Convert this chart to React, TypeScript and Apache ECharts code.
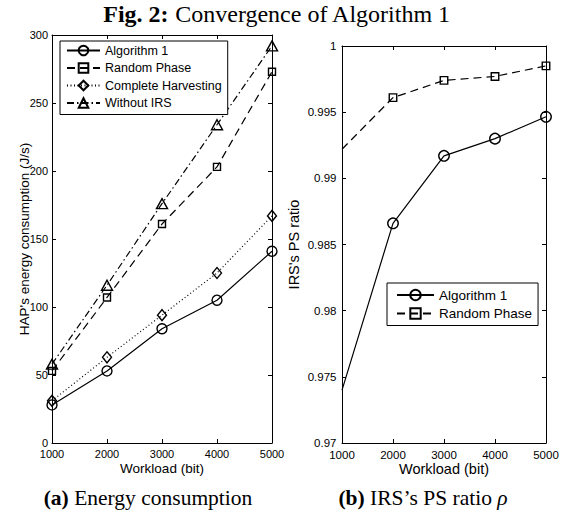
import React, { useEffect, useRef } from 'react';
import * as echarts from 'echarts';

// ---- data ----
const workload = [1000, 2000, 3000, 4000, 5000];
const energyAlg1 = [28, 53, 84, 105, 141];
const energyRandom = [53, 107, 161, 203, 273];
const energyComplete = [31, 63, 94, 125, 167];
const energyNoIRS = [58, 116, 176, 234, 292];
const psAlg1 = [0.974, 0.9866, 0.9917, 0.993, 0.99465];
const psRandom = [0.9922, 0.9961, 0.9974, 0.9977, 0.9985];
const energyAxis = { min: 0, max: 300, interval: 50 };
const psAxis = { min: 0.97, max: 1, interval: 0.005 };
const workloadAxis = { min: 1000, max: 5000, interval: 1000 };
const leftLegend = ['Algorithm 1', 'Random Phase', 'Complete Harvesting', 'Without IRS'];
const rightLegend = ['Algorithm 1', 'Random Phase'];

const SANS = '"Liberation Sans", Arial, sans-serif';
const SERIF = '"Liberation Serif", "Times New Roman", serif';

function pairs(ys: number[], hideFirst = false) {
  return workload.map((x, i) =>
    hideFirst && i === 0 ? { value: [x, ys[i]], symbol: 'none' } : [x, ys[i]]
  );
}

function lineSeries(name: string, data: any[], idx: number, symbol: string, size: any, dash: any) {
  return {
    type: 'line',
    name,
    data,
    xAxisIndex: idx,
    yAxisIndex: idx,
    symbol,
    symbolSize: size,
    showSymbol: true,
    silent: true,
    lineStyle: { color: '#000', width: 1.2, type: dash },
    itemStyle: { color: 'rgba(0,0,0,0)', borderColor: '#000', borderWidth: 1.4 },
    emphasis: { disabled: true },
  };
}

const axisLineStyle = { color: '#000', width: 1 };
const plain = (v: number) => String(parseFloat(v.toFixed(4)));

function xAx(gridIndex: number, top: boolean, fontSize: number, nameSize: number) {
  return {
    type: 'value',
    gridIndex,
    position: top ? 'top' : 'bottom',
    ...workloadAxis,
    name: top ? '' : 'Workload (bit)',
    nameLocation: 'middle',
    nameGap: 18,
    nameMoveOverlap: false,
    nameTextStyle: { fontFamily: SANS, fontSize: nameSize, color: '#000' },
    axisLine: { show: true, onZero: false, lineStyle: axisLineStyle },
    axisTick: { show: true, inside: true, length: 4, lineStyle: axisLineStyle },
    axisLabel: { show: !top, fontFamily: SANS, fontSize, color: '#000', margin: 5.5, formatter: plain },
    splitLine: { show: false },
  };
}

function yAx(gridIndex: number, right: boolean, cfg: any, name: string, fontSize: number, nameSize: number, nameGap: number, margin: number) {
  return {
    type: 'value',
    gridIndex,
    position: right ? 'right' : 'left',
    ...cfg,
    name: right ? '' : name,
    nameLocation: 'middle',
    nameGap,
    nameMoveOverlap: false,
    nameTextStyle: { fontFamily: SANS, fontSize: nameSize, color: '#000' },
    axisLine: { show: true, onZero: false, lineStyle: axisLineStyle },
    axisTick: { show: true, inside: true, length: 4, lineStyle: axisLineStyle },
    axisLabel: {
      show: !right,
      fontFamily: SANS,
      fontSize,
      color: '#000',
      margin,
      formatter: plain,
    },
    splitLine: { show: false },
  };
}

export default function App() {
  const ref = useRef<HTMLDivElement>(null);
  useEffect(() => {
    if (!ref.current) return;
    const chart = echarts.init(ref.current, null, { renderer: 'svg' });
    chart.setOption({
      animation: false,
      backgroundColor: '#fff',
      grid: [
        { left: 52, top: 35, width: 220, height: 408, outerBoundsMode: 'none' },
        { left: 342, top: 46, width: 204, height: 397, outerBoundsMode: 'none' },
      ],
      xAxis: [xAx(0, false, 11, 13.5), xAx(1, false, 11.5, 14.5), xAx(0, true, 11, 13.5), xAx(1, true, 11.5, 14.5)],
      yAxis: [
        yAx(0, false, energyAxis, "HAP's energy consumption (J/s)", 11, 13.5, 21, 4),
        yAx(1, false, psAxis, "IRS's PS ratio", 11.5, 14.5, 41, 5.5),
        yAx(0, true, energyAxis, '', 11, 13.5, 21, 4),
        yAx(1, true, psAxis, '', 11.5, 14.5, 41, 5.5),
      ],
      legend: [
        {
          data: leftLegend,
          left: 60,
          top: 41,
          orient: 'vertical',
          itemWidth: 33,
          itemHeight: 12,
          itemGap: 4.5,
          padding: [3, 6, 5, 6],
          borderColor: '#000',
          borderWidth: 1,
          backgroundColor: '#fff',
          selectedMode: false,
          textStyle: { fontFamily: SANS, fontSize: 12.5, color: '#000' },
        },
        {
          data: rightLegend,
          left: 387,
          top: 283,
          orient: 'vertical',
          itemWidth: 37,
          itemHeight: 13,
          itemGap: 4.5,
          padding: [5, 6, 5, 9],
          borderColor: '#000',
          borderWidth: 1,
          backgroundColor: '#fff',
          selectedMode: false,
          textStyle: { fontFamily: SANS, fontSize: 13.5, color: '#000' },
        },
      ],
      series: [
        lineSeries('Algorithm 1', pairs(energyAlg1), 0, 'circle', 10, 'solid'),
        lineSeries('Random Phase', pairs(energyRandom), 0, 'rect', 7, [8, 5]),
        lineSeries('Complete Harvesting', pairs(energyComplete), 0, 'diamond', [9, 11], [1, 2.5]),
        lineSeries('Without IRS', pairs(energyNoIRS), 0, 'triangle', [11, 10], [7, 3, 1.5, 3]),
        lineSeries('Algorithm 1', pairs(psAlg1, true), 1, 'circle', 10.5, 'solid'),
        lineSeries('Random Phase', pairs(psRandom, true), 1, 'rect', 7.5, [8, 5]),
      ],
      graphic: [
        {
          type: 'text',
          x: 277,
          y: 14,
          style: {
            text: '{b|Fig. 2:} Convergence of Algorithm 1',
            fontFamily: SERIF,
            fontSize: 24,
            fill: '#000',
            align: 'center',
            verticalAlign: 'middle',
            rich: { b: { fontFamily: SERIF, fontSize: 24, fontWeight: 'bold', fill: '#000' } },
          },
        },
        {
          type: 'text',
          x: 148,
          y: 498,
          style: {
            text: '{b|(a)} Energy consumption',
            fontFamily: SERIF,
            fontSize: 21.5,
            fill: '#000',
            align: 'center',
            verticalAlign: 'middle',
            rich: { b: { fontFamily: SERIF, fontSize: 21.5, fontWeight: 'bold', fill: '#000' } },
          },
        },
        {
          type: 'text',
          x: 423,
          y: 498,
          style: {
            text: '{b|(b)} IRS\u2019s PS ratio {i|\u03c1}',
            fontFamily: SERIF,
            fontSize: 21.5,
            fill: '#000',
            align: 'center',
            verticalAlign: 'middle',
            rich: {
              b: { fontFamily: SERIF, fontSize: 21.5, fontWeight: 'bold', fill: '#000' },
              i: { fontFamily: SERIF, fontSize: 21.5, fontStyle: 'italic', fill: '#000' },
            },
          },
        },
      ],
    });
    return () => chart.dispose();
  }, []);
  return (
    <div
      ref={ref}
      style={{ position: 'absolute', left: 0, top: 0, width: 574, height: 516, background: '#fff' }}
    />
  );
}
